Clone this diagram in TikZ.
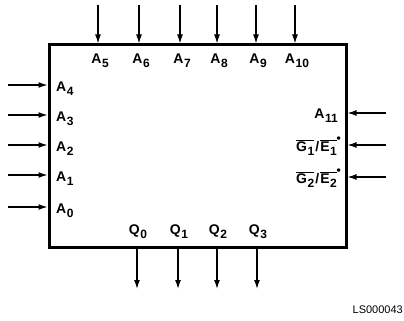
\documentclass[tikz,border=0pt]{standalone}
\usepackage{fontspec}
\setmainfont{Liberation Sans}
\usetikzlibrary{arrows.meta}

\tikzset{
  chip/.style={draw,line width=3pt,minimum width=297pt,minimum height=202pt,inner sep=0},
  pin/.style={line width=1.3pt,-{Latex[length=9pt,width=6pt]}},
  lbl/.style={font=\fontsize{14}{14}\selectfont\bfseries,inner sep=1pt},
}
\newcommand{\sub}[1]{\kern0.6pt\raisebox{-0.3em}{\fontsize{12}{12}\selectfont#1}}
\newcommand{\barsig}[2]{$\overline{\mbox{#1\sub{#2}}}$}
\newcommand{\dotmark}{\kern-0.3pt\raisebox{0.62em}{\fontsize{12}{12}\selectfont\textbullet}}

\begin{document}
\begin{tikzpicture}[x=1pt,y=-1pt]
  \useasboundingbox (0,0) rectangle (404,321);
  \node[chip] (chip) at (197.5,146) {};
  % address inputs on top
  \foreach \i/\x in {5/98,6/139,7/180,8/217,9/256,10/295}{
    \coordinate (t\i) at (\x,5);
    \draw[pin] (t\i) -- (t\i |- chip.north);
    \node[lbl] (A\i) at (\x+2,61) {A\sub{\i}};
  }
  % address inputs on the left
  \foreach \i/\y in {4/85,3/115,2/145,1/175,0/207}{
    \coordinate (l\i) at (8,\y);
    \draw[pin] (l\i) -- (l\i -| chip.west);
    \node[lbl,anchor=west] (A\i) at (55,\y+4) {A\sub{\i}};
  }
  % inputs on the right
  \coordinate (r11) at (386,113);
  \coordinate (rg1) at (386,145);
  \coordinate (rg2) at (386,177);
  \foreach \c in {r11,rg1,rg2}
    \draw[pin] (\c) -- (\c -| chip.east);
  \node[lbl,anchor=east] (A11) at (339,116) {A\sub{11}};
  \node[lbl,anchor=east] (G1) at (342,146) {\barsig{G}{1}\kern1pt/\kern1pt\barsig{E}{1}\dotmark};
  \node[lbl,anchor=east] (G2) at (342,178) {\barsig{G}{2}\kern1pt/\kern1pt\barsig{E}{2}\dotmark};
  % data outputs
  \foreach \i/\x in {0/137,1/178,2/217,3/257}{
    \coordinate (b\i) at (\x,289);
    \draw[pin] (b\i |- chip.south) -- (b\i);
    \node[lbl] (Q\i) at (\x+1,232) {Q\sub{\i}};
  }
  \node[font=\fontsize{11}{11}\selectfont,anchor=east,inner sep=0] (ref) at (403,310) {LS000043};
\end{tikzpicture}
\end{document}
